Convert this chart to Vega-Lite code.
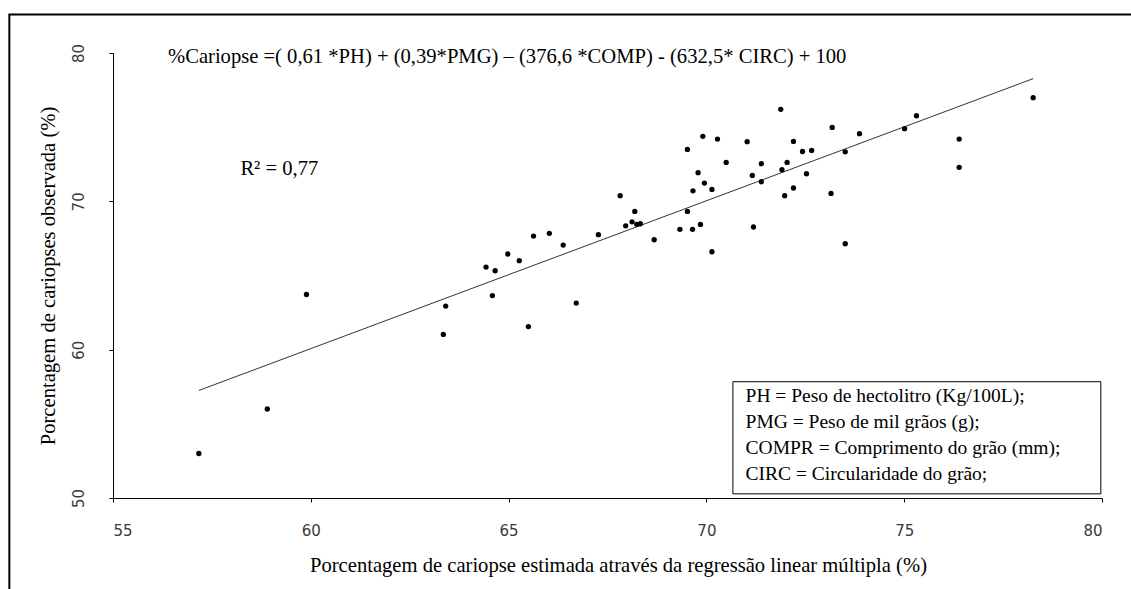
{
  "$schema": "https://vega.github.io/schema/vega-lite/v6.json",
  "autosize": {"type": "none"},
  "width": 989,
  "height": 445,
  "padding": {"left": 113, "top": 53, "right": 29, "bottom": 91},
  "background": "white",
  "config": {
    "view": {"stroke": null},
    "axis": {
      "grid": false,
      "domainColor": "black",
      "domainWidth": 1,
      "tickColor": "black",
      "tickSize": 4,
      "labelFont": "DejaVu Sans",
      "labelFontSize": 15,
      "labelColor": "#3a3a3a",
      "titleFont": "Liberation Serif",
      "titleFontSize": 20.6,
      "titleFontWeight": "normal",
      "titleColor": "black"
    }
  },
  "datasets": {
    "pts": [
      {"est": 57.17, "obs": 53.0}, {"est": 58.90, "obs": 56.0}, {"est": 59.89, "obs": 63.72},
      {"est": 63.35, "obs": 61.03}, {"est": 63.41, "obs": 62.94}, {"est": 64.43, "obs": 65.57},
      {"est": 64.66, "obs": 65.32}, {"est": 64.59, "obs": 63.65}, {"est": 64.98, "obs": 66.45},
      {"est": 65.27, "obs": 66.0}, {"est": 65.50, "obs": 61.56}, {"est": 65.63, "obs": 67.66},
      {"est": 66.03, "obs": 67.84}, {"est": 66.38, "obs": 67.05}, {"est": 66.71, "obs": 63.14},
      {"est": 67.27, "obs": 67.75}, {"est": 67.82, "obs": 70.38}, {"est": 67.96, "obs": 68.35},
      {"est": 68.19, "obs": 69.32}, {"est": 68.12, "obs": 68.62}, {"est": 68.24, "obs": 68.45},
      {"est": 68.33, "obs": 68.49}, {"est": 68.68, "obs": 67.41}, {"est": 69.33, "obs": 68.11},
      {"est": 69.52, "obs": 73.5}, {"est": 69.52, "obs": 69.32}, {"est": 69.65, "obs": 68.11},
      {"est": 69.66, "obs": 70.71}, {"est": 69.79, "obs": 71.93}, {"est": 69.85, "obs": 68.44},
      {"est": 69.91, "obs": 74.38}, {"est": 69.95, "obs": 71.23}, {"est": 70.14, "obs": 70.8},
      {"est": 70.14, "obs": 66.6}, {"est": 70.28, "obs": 74.2}, {"est": 70.5, "obs": 72.62},
      {"est": 71.03, "obs": 74.02}, {"est": 71.16, "obs": 71.75}, {"est": 71.19, "obs": 68.27},
      {"est": 71.39, "obs": 72.54}, {"est": 71.39, "obs": 71.32}, {"est": 71.88, "obs": 76.2},
      {"est": 71.91, "obs": 72.13}, {"est": 71.98, "obs": 70.38}, {"est": 72.04, "obs": 72.62},
      {"est": 72.2, "obs": 74.04}, {"est": 72.2, "obs": 70.9}, {"est": 72.43, "obs": 73.36},
      {"est": 72.53, "obs": 71.86}, {"est": 72.66, "obs": 73.43}, {"est": 73.15, "obs": 70.53},
      {"est": 73.18, "obs": 74.98}, {"est": 73.51, "obs": 73.34}, {"est": 73.51, "obs": 67.14},
      {"est": 73.87, "obs": 74.56}, {"est": 75.01, "obs": 74.9}, {"est": 75.31, "obs": 75.77},
      {"est": 76.39, "obs": 74.2}, {"est": 76.39, "obs": 72.29}, {"est": 78.26, "obs": 76.99}
    ],
    "trend": [
      {"est": 57.17, "obs": 57.25},
      {"est": 78.26, "obs": 78.27}
    ]
  },
  "layer": [
    {
      "data": {"values": [{}]},
      "mark": {"type": "rect", "fill": null, "stroke": "black", "strokeWidth": 2, "clip": false},
      "encoding": {
        "x": {"datum": 52.38, "type": "quantitative"},
        "x2": {"datum": 86},
        "y": {"datum": 82.6, "type": "quantitative"},
        "y2": {"datum": 38}
      }
    },
    {
      "data": {"name": "trend"},
      "mark": {"type": "line", "color": "#333333", "strokeWidth": 1},
      "encoding": {
        "x": {"field": "est", "type": "quantitative",
              "scale": {"domain": [55, 80], "nice": false, "zero": false},
              "axis": {"values": [55, 60, 65, 70, 75, 80], "labelPadding": 21, "titlePadding": 17, "titleX": 505,
                       "title": "Porcentagem de cariopse estimada através da regressão  linear múltipla (%)"}},
        "y": {"field": "obs", "type": "quantitative",
              "scale": {"domain": [50, 80], "nice": false, "zero": false},
              "axis": {"values": [50, 60, 70, 80], "labelAngle": -90, "labelAlign": "center", "labelBaseline": "alphabetic",
                       "labelPadding": 26, "titlePadding": 13,
                       "title": "Porcentagem de cariopses  observada (%)"}}
      }
    },
    {
      "data": {"name": "pts"},
      "mark": {"type": "point", "shape": "circle", "filled": true, "color": "black", "size": 28, "opacity": 1},
      "encoding": {
        "x": {"field": "est", "type": "quantitative"},
        "y": {"field": "obs", "type": "quantitative"}
      }
    },
    {
      "data": {"values": [{}]},
      "mark": {"type": "rect", "fill": "white", "stroke": "black", "strokeWidth": 1},
      "encoding": {
        "x": {"datum": 70.67, "type": "quantitative"},
        "x2": {"datum": 79.97},
        "y": {"datum": 57.84, "type": "quantitative"},
        "y2": {"datum": 50.28}
      }
    },
    {
      "data": {"values": [{}]},
      "mark": {"type": "text", "text": "%Cariopse =( 0,61 *PH) + (0,39*PMG) – (376,6 *COMP) - (632,5* CIRC) + 100",
               "align": "left", "baseline": "alphabetic", "font": "Liberation Serif", "fontSize": 20.6, "color": "black"},
      "encoding": {"x": {"datum": 56.39, "type": "quantitative"}, "y": {"datum": 79.33, "type": "quantitative"}}
    },
    {
      "data": {"values": [{}]},
      "mark": {"type": "text", "text": "R² = 0,77",
               "align": "left", "baseline": "alphabetic", "font": "Liberation Serif", "fontSize": 20.6, "color": "black"},
      "encoding": {"x": {"datum": 58.22, "type": "quantitative"}, "y": {"datum": 71.75, "type": "quantitative"}}
    },
    {
      "data": {"values": [{}]},
      "mark": {"type": "text", "text": "PH = Peso de hectolitro (Kg/100L);",
               "align": "left", "baseline": "alphabetic", "font": "Liberation Serif", "fontSize": 19.5, "color": "black"},
      "encoding": {"x": {"datum": 70.99, "type": "quantitative"}, "y": {"datum": 56.49, "type": "quantitative"}}
    },
    {
      "data": {"values": [{}]},
      "mark": {"type": "text", "text": "PMG = Peso de mil grãos (g);",
               "align": "left", "baseline": "alphabetic", "font": "Liberation Serif", "fontSize": 19.5, "color": "black"},
      "encoding": {"x": {"datum": 70.99, "type": "quantitative"}, "y": {"datum": 54.73, "type": "quantitative"}}
    },
    {
      "data": {"values": [{}]},
      "mark": {"type": "text", "text": "COMPR = Comprimento do grão (mm);",
               "align": "left", "baseline": "alphabetic", "font": "Liberation Serif", "fontSize": 19.5, "color": "black"},
      "encoding": {"x": {"datum": 70.99, "type": "quantitative"}, "y": {"datum": 52.98, "type": "quantitative"}}
    },
    {
      "data": {"values": [{}]},
      "mark": {"type": "text", "text": "CIRC = Circularidade do grão;",
               "align": "left", "baseline": "alphabetic", "font": "Liberation Serif", "fontSize": 19.5, "color": "black"},
      "encoding": {"x": {"datum": 70.99, "type": "quantitative"}, "y": {"datum": 51.23, "type": "quantitative"}}
    }
  ]
}
